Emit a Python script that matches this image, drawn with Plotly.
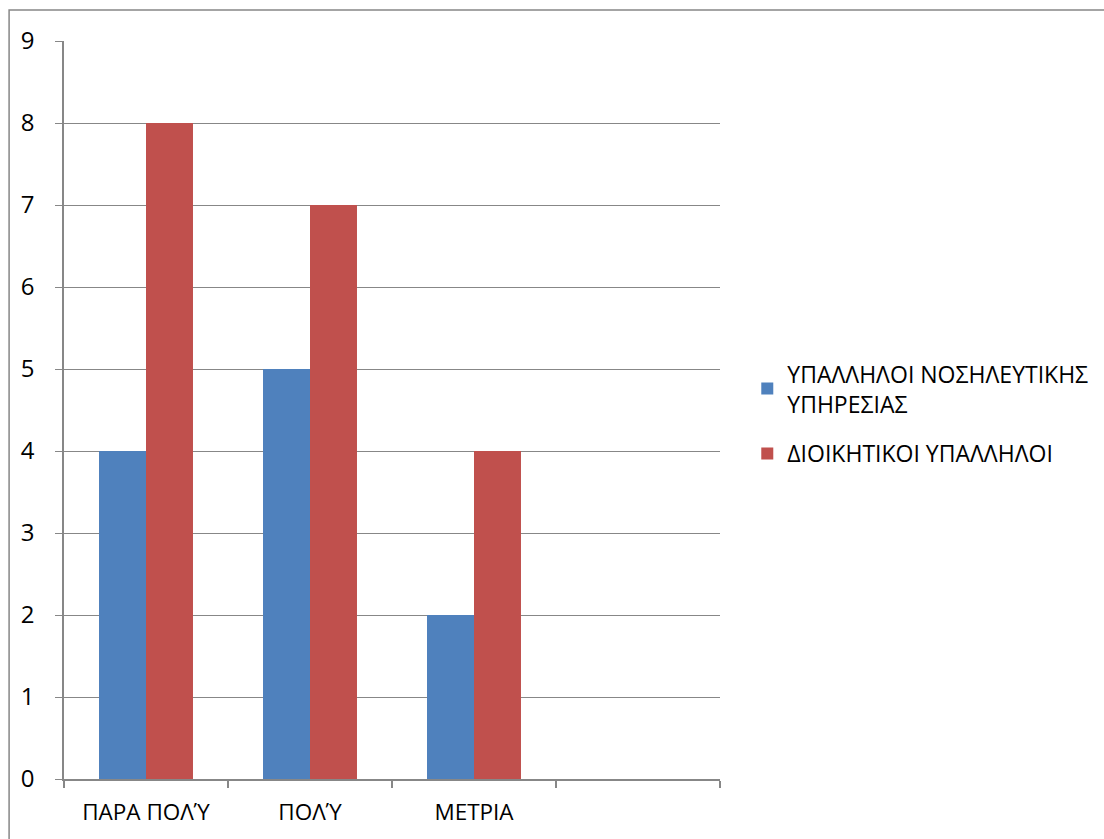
import plotly.graph_objects as go

# Survey answers per group
categories = ["ΠΑΡΑ ΠΟΛΎ", "ΠΟΛΎ", "ΜΕΤΡΙΑ", " "]
nursing_staff = [4, 5, 2, None]
admin_staff = [8, 7, 4, None]
series_names = ["ΥΠΑΛΛΗΛΟΙ ΝΟΣΗΛΕΥΤΙΚΗΣ<br>ΥΠΗΡΕΣΙΑΣ", "ΔΙΟΙΚΗΤΙΚΟΙ ΥΠΑΛΛΗΛΟΙ"]
y_ticks = list(range(0, 10))

GRID = "#878787"
FONT = "Open Sans, Noto Sans, sans-serif"

fig = go.Figure()
fig.add_trace(go.Bar(x=categories, y=nursing_staff, name=series_names[0],
                     legendgroup="a",
                     marker=dict(color="#4F81BD", line=dict(width=0))))
fig.add_trace(go.Bar(x=categories, y=admin_staff, name=series_names[1],
                     legendgroup="b",
                     marker=dict(color="#C0504D", line=dict(width=0))))

fig.update_layout(
    width=1104, height=839,
    margin=dict(l=64, r=383, t=41, b=60),
    paper_bgcolor="white", plot_bgcolor="white",
    barmode="group", bargap=0.427, bargroupgap=0,
    font=dict(family=FONT, size=23, color="black"),
    legend=dict(x=1.04, y=0.495, xanchor="left", yanchor="middle",
                font=dict(size=23), itemwidth=30, tracegroupgap=17,
                traceorder="grouped", bgcolor="rgba(0,0,0,0)"),
    xaxis=dict(type="category", categoryorder="array", categoryarray=categories,
               range=[-0.5, 3.5], showgrid=False, showline=True, linecolor=GRID,
               linewidth=1.5, ticks="outside", tickson="boundaries", ticklen=7,
               tickcolor=GRID, tickwidth=1.5, tickfont=dict(size=22.5),
               ticklabelstandoff=12),
    yaxis=dict(range=[0, 9], tickvals=y_ticks, showgrid=True, gridcolor=GRID,
               gridwidth=1.3, showline=True, linecolor=GRID, linewidth=1.5,
               ticks="outside", ticklen=7, tickcolor=GRID, tickwidth=1.3,
               tickfont=dict(size=24), ticklabelstandoff=16, zeroline=False),
)

# Chart-area frame
fig.add_shape(type="rect", xref="paper", yref="paper",
              x0=-0.0837, x1=1.9, y0=-0.3, y1=1.042,
              line=dict(color=GRID, width=1.5), layer="above")

fig.write_html("out.html")
